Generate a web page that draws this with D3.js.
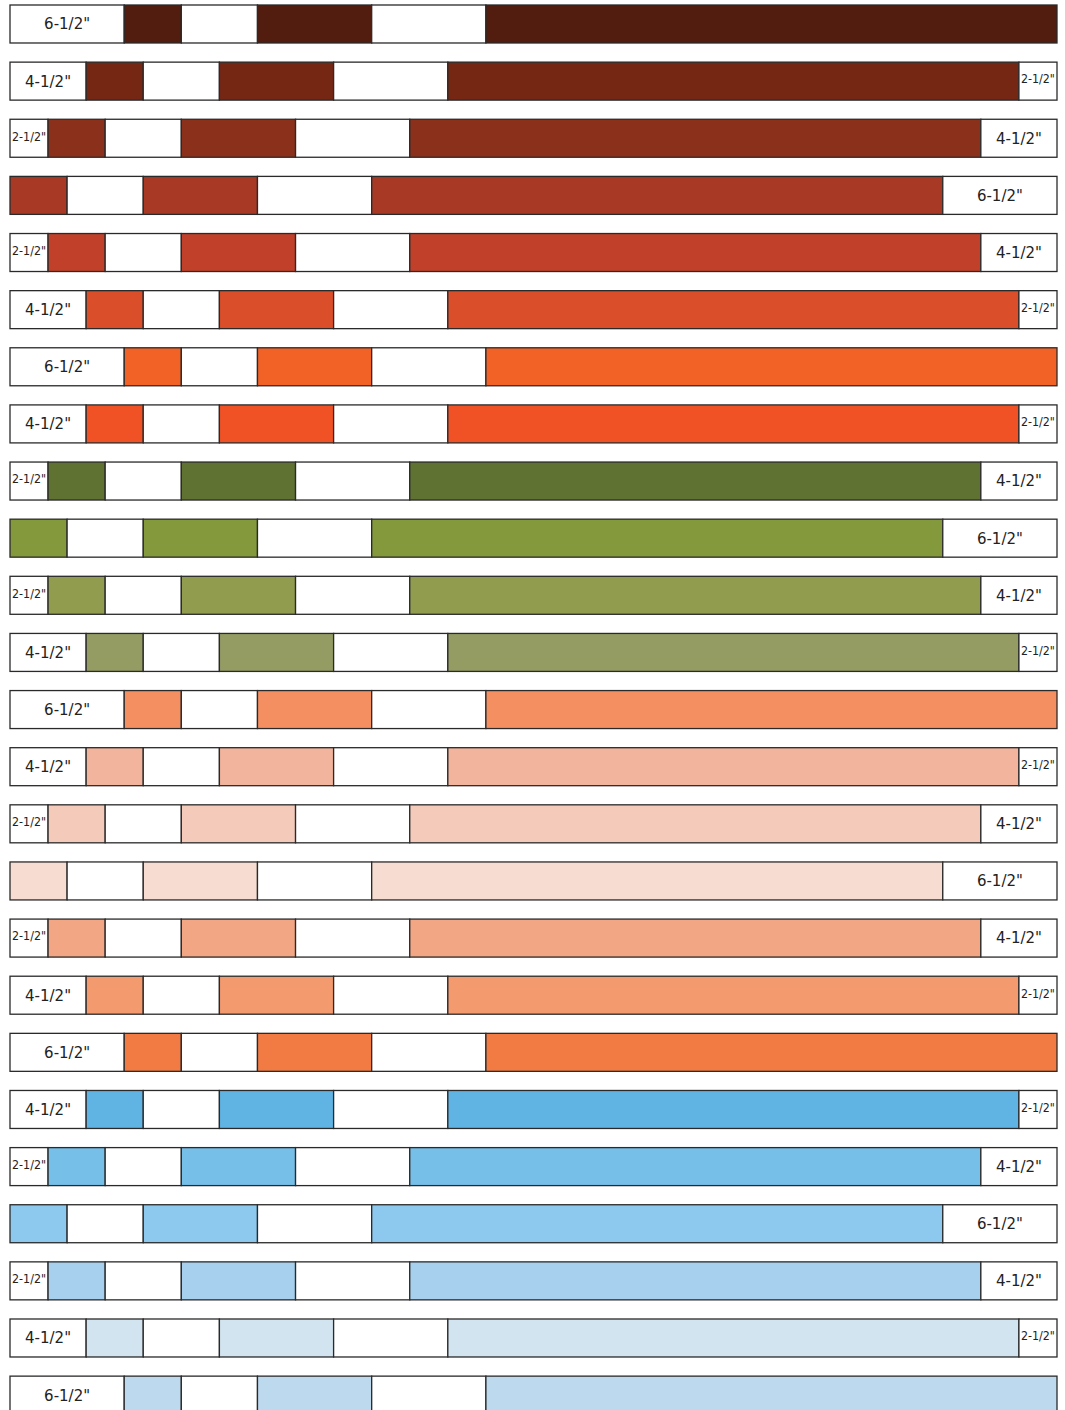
<!DOCTYPE html>
<html>
<head>
<meta charset="utf-8">
<script src="https://cdn.jsdelivr.net/npm/d3@7"></script>
<style>
  body { margin: 0; background: #fff; }
  text { font-family: "DejaVu Sans", sans-serif; fill: #222; }
</style>
</head>
<body>
<svg width="1065" height="1410"></svg>
<script>
// white lead-in width per row, in strip units (2 units = 2-1/2" label)
var offsets = [6, 4, 2, 0, 2, 4, 6, 4, 2, 0, 2, 4, 6, 4, 2, 0, 2, 4, 6, 4, 2, 0, 2, 4, 6];
var colors = [
  "#521c0e", "#752714", "#8b301b", "#a83a25", "#c04029", "#db4e2a", "#f26227", "#f15225",
  "#5f7232", "#83993b", "#919c4f", "#949c64",
  "#f48f62", "#f2b49c", "#f4cabb", "#f6dcd1", "#f3a683", "#f39a6f", "#f27b44",
  "#60b4e4", "#76bfe8", "#8dc9ee", "#a6d0ee", "#d2e4f0", "#bcd9ee"
];
// pieces after the lead-in: colored / white alternating
var pieces = [3, 4, 6, 6, 30];
var totalUnits = 55;
var labels = { 2: "2-1/2\"", 4: "4-1/2\"", 6: "6-1/2\"" };

var svg = d3.select("svg");

var x = d3.scaleLinear().domain([0, totalUnits]).range([10, 1057]);
var y = d3.scaleBand()
  .domain(d3.range(offsets.length))
  .range([5, 5 + 24 * 57.13 + 38])
  .paddingInner(0.335);

// build segments for each row
var rows = offsets.map((off, i) => {
  var segs = [];
  var pos = 0;
  if (off > 0) { segs.push({ start: 0, len: off, fill: "#fff", label: labels[off] }); }
  pos = off;
  pieces.forEach((p, j) => {
    segs.push({ start: pos, len: p, fill: j % 2 === 0 ? colors[i] : "#fff" });
    pos += p;
  });
  var rest = totalUnits - pos;
  if (rest > 0) { segs.push({ start: pos, len: rest, fill: "#fff", label: labels[rest] }); }
  return { i: i, segs: segs };
});

var grp = svg.selectAll(".row")
  .data(rows)
  .enter()
  .append("g")
    .attr("class", "row")
    .attr("transform", d => `translate(0, ${y(d.i)})`);

grp.selectAll("rect")
  .data(d => d.segs)
  .enter()
  .append("rect")
    .attr("x", d => x(d.start))
    .attr("width", d => x(d.start + d.len) - x(d.start))
    .attr("height", y.bandwidth())
    .attr("fill", d => d.fill)
    .attr("stroke", "#2a2a2a")
    .attr("stroke-width", 1.3);

grp.selectAll("text")
  .data(d => d.segs.filter(s => s.label))
  .enter()
  .append("text")
    .attr("x", d => x(d.start + d.len / 2))
    .attr("y", d => d.len === 2 ? y.bandwidth() / 2 - 2 : y.bandwidth() / 2)
    .attr("dy", "0.36em")
    .attr("text-anchor", "middle")
    .style("font-size", d => d.len === 2 ? "12px" : "15px")
    .each(function(d) {
      if (d.len === 2) {
        d3.select(this).attr("textLength", 34).attr("lengthAdjust", "spacingAndGlyphs");
      }
    })
    .text(d => d.label);
</script>
</body>
</html>
